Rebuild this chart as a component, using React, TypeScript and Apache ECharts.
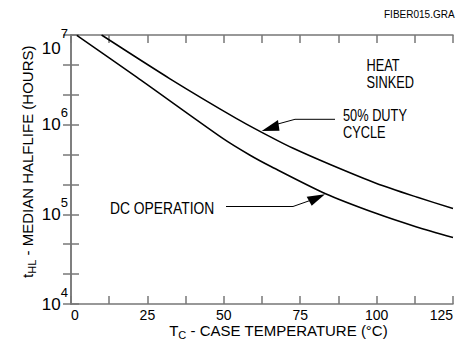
import { useEffect, useRef } from "react";
import * as echarts from "echarts";

// 50% duty cycle curve (case temperature °C, median halflife hours)
const temps50 = [10, 32.4, 54.2, 65.1, 72.7, 85, 100, 113.1, 125];
const hours50 = [1.0e7, 3.25e6, 1.17e6, 7.36e5, 5.45e5, 3.57e5, 2.21e5, 1.56e5, 1.16e5];
// DC operation curve
const tempsDC = [1.9, 21.5, 49.8, 58.6, 65.1, 83.1, 100, 113.1, 125];
const hoursDC = [9.9e6, 3.39e6, 6.98e5, 4.56e5, 3.46e5, 1.71e5, 1.02e5, 7.24e4, 5.52e4];
// axis ranges
const xRange = [0, 125];
const yDecadeRange = [4, 7];

const FONT = "Liberation Sans";
const AXIS_COLOR = "#777";

export default function App() {
  const ref = useRef<HTMLDivElement>(null);

  useEffect(() => {
    if (!ref.current) return;
    const chart = echarts.init(ref.current, undefined, { renderer: "svg" });

    const toPts = (t: number[], h: number[]) => t.map((v, i) => [v, Math.log10(h[i])]);

    const axisLine = { show: true, lineStyle: { color: AXIS_COLOR, width: 1.5 } };
    const axisTick = { show: true, inside: true, length: 8, lineStyle: { color: AXIS_COLOR, width: 1.5 } };
    const minorTickX = { show: true, splitNumber: 2, length: 8, lineStyle: { color: AXIS_COLOR, width: 1.5 } };
    const minorTickY = { show: true, splitNumber: 3, length: 8, lineStyle: { color: AXIS_COLOR, width: 1.5 } };

    const xBase = {
      type: "value" as const,
      min: xRange[0],
      max: xRange[1],
      interval: 25,
      axisLine,
      axisTick,
      minorTick: minorTickX,
      splitLine: { show: false },
      minorSplitLine: { show: false },
    };
    const yBase = {
      type: "value" as const,
      min: yDecadeRange[0],
      max: yDecadeRange[1],
      interval: 1,
      axisLine,
      axisTick,
      minorTick: minorTickY,
      splitLine: { show: false },
      minorSplitLine: { show: false },
    };

    const annText = (text: string, x: number, y: number, size = 16, scaleX = 0.8) => ({
      type: "text",
      x,
      y,
      scaleX,
      style: {
        text,
        fontFamily: FONT,
        fontSize: size,
        fill: "#000",
        align: "left",
        verticalAlign: "middle",
      },
    });

    const lineSeries = (name: string, t: number[], h: number[]) => ({
      type: "line",
      name,
      data: toPts(t, h),
      showSymbol: false,
      symbol: "none",
      smooth: 0.25,
      lineStyle: { color: "#000", width: 1.5 },
    });

    chart.setOption({
      animation: false,
      backgroundColor: "#fff",
      grid: { left: 71, top: 35, width: 382, height: 269 },
      xAxis: [
        {
          ...xBase,
          position: "bottom",
          axisLabel: {
            margin: 5,
            lineHeight: 12,
            fontFamily: FONT,
            fontSize: 14,
            color: "#000",
            alignMinLabel: "left",
            alignMaxLabel: "right",
          },
        },
        { ...xBase, position: "top", axisLabel: { show: false } },
      ],
      yAxis: [
        {
          ...yBase,
          position: "left",
          axisLabel: {
            margin: 3,
            color: "#000",
            fontFamily: FONT,
            formatter: (v: number) =>
              v === yDecadeRange[1] ? `{b7|10}{e7|${v}}` : `{b|10}{e|${v}}`,
            rich: {
              b: { fontFamily: FONT, fontSize: 17, color: "#000" },
              e: { fontFamily: FONT, fontSize: 13, color: "#000", padding: [0, 0, 24, 0] },
              b7: { fontFamily: FONT, fontSize: 17, color: "#000", padding: [26, 0, 0, 0] },
              e7: { fontFamily: FONT, fontSize: 13, color: "#000", padding: [13, 0, 17, 0] },
            },
          },
        },
        { ...yBase, position: "right", axisLabel: { show: false } },
      ],
      series: [
        lineSeries("50% DUTY CYCLE", temps50, hours50),
        lineSeries("DC OPERATION", tempsDC, hoursDC),
      ],
      graphic: [
        {
          type: "text",
          x: 384,
          y: 14,
          style: {
            text: "FIBER015.GRA",
            fontFamily: FONT,
            fontSize: 10,
            fill: "#000",
            align: "left",
            verticalAlign: "middle",
          },
        },
        annText("HEAT", 366.5, 65.8),
        annText("SINKED", 366.5, 82.2),
        annText("50% DUTY", 343, 115.8),
        annText("CYCLE", 343, 132.2),
        annText("DC OPERATION", 110, 208, 16.5, 0.84),
        // x axis title
        {
          type: "text",
          x: 278.5,
          y: 330.5,
          style: {
            text: "{t|T}{s|C}{t| - CASE TEMPERATURE (°C)}",
            align: "center",
            verticalAlign: "middle",
            rich: {
              t: { fontFamily: FONT, fontSize: 15, lineHeight: 11, fill: "#000" },
              s: { fontFamily: FONT, fontSize: 11, lineHeight: 6, fill: "#000", padding: [8, 0, 0, 0] },
            },
          },
        },
        // y axis title
        {
          type: "text",
          x: 27.5,
          y: 161.7,
          rotation: Math.PI / 2,
          style: {
            text: "{t|t}{s|HL}{t| - MEDIAN HALFLIFE (HOURS)}",
            align: "center",
            verticalAlign: "middle",
            rich: {
              t: { fontFamily: FONT, fontSize: 15, fill: "#000" },
              s: { fontFamily: FONT, fontSize: 11, fill: "#000", padding: [8, 0, 0, 0] },
            },
          },
        },
        // arrow to 50% duty curve
        {
          type: "polyline",
          shape: { points: [[335, 119.3], [295, 119.3], [276, 124.5]] },
          style: { stroke: "#000", lineWidth: 1, fill: null },
        },
        {
          type: "polygon",
          shape: { points: [[261.7, 131], [278, 120], [279.5, 130.7]] },
          style: { fill: "#000" },
        },
        // arrow to DC curve
        {
          type: "polyline",
          shape: { points: [[226, 206.5], [293, 206.5], [310, 200.5]] },
          style: { stroke: "#000", lineWidth: 1, fill: null },
        },
        {
          type: "polygon",
          shape: { points: [[325, 194.3], [306.7, 196.7], [311.7, 205.7]] },
          style: { fill: "#000" },
        },
      ],
    });

    return () => chart.dispose();
  }, []);

  return (
    <div
      ref={ref}
      style={{ position: "fixed", left: 0, top: 0, width: 456, height: 353, background: "#fff" }}
    />
  );
}
